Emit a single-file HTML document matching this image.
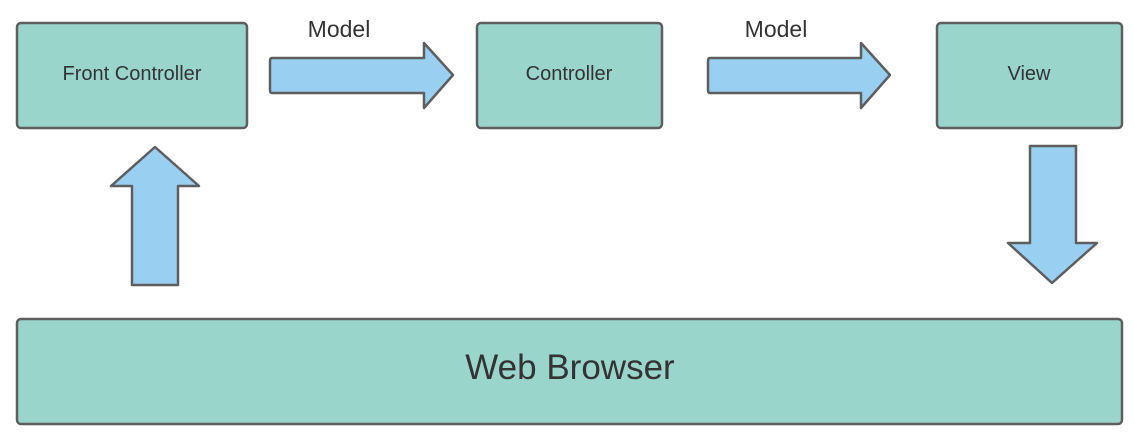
<!DOCTYPE html>
<html><head><style>
body{margin:0;background:#fff;width:1135px;height:438px;overflow:hidden}
svg{display:block}
text{font-family:"Liberation Sans",sans-serif;fill:#333}
</style></head><body>
<svg width="1135" height="438" viewBox="0 0 1135 438">
<g stroke="#5e5e5e" stroke-width="2.5" stroke-linejoin="round" fill="#9ad5cb">
<rect x="17" y="23" width="230" height="105" rx="4"/>
<rect x="477" y="23" width="185" height="105" rx="4"/>
<rect x="937" y="23" width="185" height="105" rx="4"/>
<rect x="17" y="319" width="1105" height="105" rx="4"/>
</g>
<g stroke="#5e5e5e" stroke-width="2.5" stroke-linejoin="round" fill="#99d0f1">
<path d="M272 58 H424 V43 L453 75 L424 108 V93 H272 Q270 93 270 90 V61 Q270 58 272 58Z"/>
<path d="M710 58 H861 V43 L890 75 L861 108 V93 H710 Q708 93 708 90 V61 Q708 58 710 58Z"/>
<path d="M132 285 V186 H111 L155 147 L199 186 H178 V285 Z"/>
<path d="M1030 146 H1076 V243 H1097 L1052 283 L1008 243 H1030 Z"/>
</g>
<text x="132" y="80" font-size="20" text-anchor="middle">Front Controller</text>
<text x="569" y="80" font-size="20" text-anchor="middle">Controller</text>
<text x="1029" y="80" font-size="20" text-anchor="middle">View</text>
<text x="339" y="37" font-size="23" text-anchor="middle">Model</text>
<text x="776" y="37" font-size="23" text-anchor="middle">Model</text>
<text x="570" y="379" font-size="35" text-anchor="middle">Web Browser</text>
</svg>
</body></html>
